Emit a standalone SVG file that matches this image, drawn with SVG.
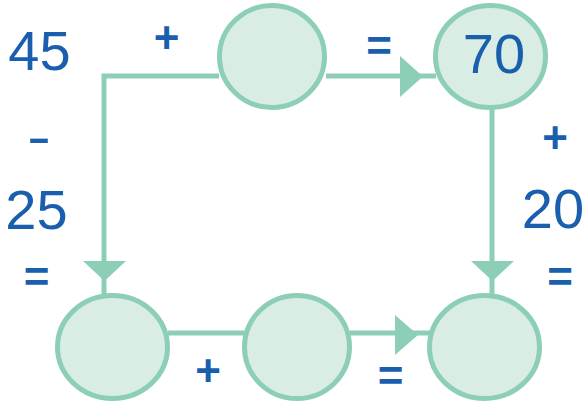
<svg xmlns="http://www.w3.org/2000/svg" width="588" height="401" viewBox="0 0 588 401">
<style>
.node{fill:#d9ede4;stroke:#8dcfb6;stroke-width:5}
.edge{fill:none;stroke:#8dcfb6;stroke-width:5}
.head{fill:#8dcfb6;stroke:none}
.num{font-family:"Liberation Sans",Arial,sans-serif;font-size:56px;fill:#1a5fad;text-anchor:middle}
.op{font-family:"Liberation Sans",Arial,sans-serif;font-size:44px;font-weight:bold;fill:#1a5fad;text-anchor:middle}
</style>
<rect width="588" height="401" fill="#ffffff"/>
<g id="connectors">
<polyline class="edge" points="219,76 104,76 104,262"/>
<polygon class="head" points="83,261 126,261 104.5,281"/>
<line class="edge" x1="104" y1="278" x2="104" y2="296"/>
<line class="edge" x1="326" y1="76" x2="436" y2="76"/>
<polygon class="head" points="400,56 400,97 423,76.5"/>
<line class="edge" x1="492" y1="108" x2="492" y2="262"/>
<polygon class="head" points="471,261 514,261 492.5,281"/>
<line class="edge" x1="492" y1="278" x2="492" y2="296"/>
<line class="edge" x1="168" y1="333" x2="244" y2="333"/>
<line class="edge" x1="350" y1="333" x2="430" y2="333"/>
<polygon class="head" points="395,315 395,355 418,335"/>
</g>
<g id="n-top-mid"><ellipse class="node" cx="272" cy="56.5" rx="52.5" ry="51"/></g>
<g id="n-top-right"><ellipse class="node" cx="490.5" cy="56.5" rx="55" ry="51"/><text class="num" x="494" y="73">70</text></g>
<g id="n-bot-left"><ellipse class="node" cx="112.5" cy="347" rx="55" ry="51.5"/></g>
<g id="n-bot-mid"><ellipse class="node" cx="297" cy="347" rx="52.5" ry="51.5"/></g>
<g id="n-bot-right"><ellipse class="node" cx="484.5" cy="347" rx="55" ry="51.5"/></g>
<g id="labels">
<text class="num" x="39" y="156" textLength="24" lengthAdjust="spacingAndGlyphs">-</text>
<text class="num" x="39.5" y="70">45</text>
<text class="op" x="166.5" y="53">+</text>
<text class="op" x="379" y="61">=</text>
<text class="num" x="36.5" y="229">25</text>
<text class="op" x="36.5" y="292">=</text>
<text class="op" x="555" y="153">+</text>
<text class="num" x="553" y="228">20</text>
<text class="op" x="560" y="292">=</text>
<text class="op" x="208" y="386">+</text>
<text class="op" x="390.5" y="391">=</text>
</g>
</svg>
